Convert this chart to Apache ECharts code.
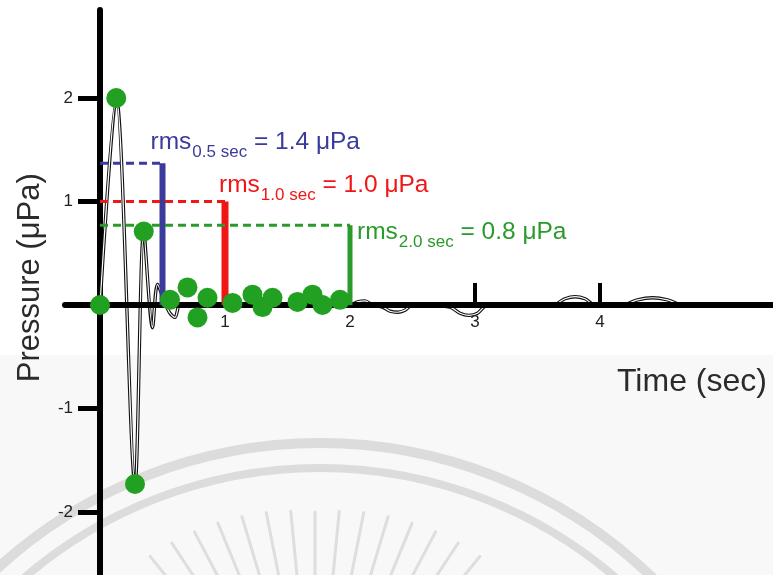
<!DOCTYPE html>
<html>
<head>
<meta charset="utf-8">
<script src="https://cdn.jsdelivr.net/npm/echarts@6/dist/echarts.min.js"></script>
<style>
html,body{margin:0;padding:0;background:#ffffff;}
#c{width:773px;height:575px;}
</style>
</head>
<body>
<div id="c"></div>
<script>
// ---- data ----
const timeSec = [0, 0.13, 0.28, 0.35, 0.42, 0.46, 0.52, 0.56, 0.60, 0.64, 0.75, 1.0, 1.5, 2.0,
  2.06, 2.12, 2.18, 2.26, 2.32, 2.38, 2.44, 2.5, 2.6, 2.8, 2.88, 2.95, 3.02, 3.1, 3.3,
  3.62, 3.72, 3.8, 3.88, 3.96, 4.18, 4.3, 4.42, 4.54, 4.66, 5.0, 5.4];
const pressure = [0, 2.0, -1.73, 0.71, -0.22, 0.2, 0.02, -0.08, -0.12, 0.0, 0, 0, 0, 0,
  0.03, 0.04, 0.0, -0.02, -0.06, -0.07, -0.05, 0, 0, -0.02, -0.08, -0.1, -0.08, 0, 0,
  0, 0.06, 0.08, 0.06, 0, 0, 0.05, 0.07, 0.05, 0, 0, 0];
const sampleTime = [0, 0.13, 0.28, 0.35, 0.56, 0.70, 0.78, 0.86, 1.06, 1.22, 1.30, 1.38, 1.58, 1.70, 1.78, 1.92];
const samplePressure = [0, 2.0, -1.73, 0.71, 0.05, 0.17, -0.12, 0.07, 0.02, 0.10, -0.02, 0.07, 0.03, 0.10, 0.0, 0.05];
const rmsWindowSec = [0.5, 1.0, 2.0];
const rmsLevel = [1.37, 1.0, 0.77];
const rmsLabel = ['1.4', '1.0', '0.8'];
const xTickValues = [1, 2, 3, 4];
const yTickValues = [-2, -1, 1, 2];

// ---- styles ----
const FONT = '"Liberation Sans", Arial, Helvetica, sans-serif';
const rmsColors = ['#3b3b9c', '#f01616', '#2a9a2a'];
const rmsBarWidth = [6, 7, 5];
const rmsLabelOffset = [[-12, -35], [-6, -30], [7, -7]];

const waveData = timeSec.map((t, i) => [t, pressure[i]]);
const sampleData = sampleTime.map((t, i) => [t, samplePressure[i]]);

const series = [
  { type: 'line', data: waveData, smooth: 0.3, symbol: 'none', silent: true, z: 2,
    lineStyle: { color: '#111', width: 3.4 } },
  { type: 'line', data: waveData, smooth: 0.3, symbol: 'none', silent: true, z: 2,
    lineStyle: { color: '#fff', width: 1.2 } }
];
rmsWindowSec.forEach((w, i) => {
  const c = rmsColors[i];
  series.push({ type: 'line', data: [[0, rmsLevel[i]], [w, rmsLevel[i]]], symbol: 'none', silent: true, z: 4,
    lineStyle: { color: c, width: 3, type: [8, 5] } });
  series.push({ type: 'line', data: [[w, rmsLevel[i]], [w, 0]], symbol: 'none', silent: true, z: 4,
    lineStyle: { color: c, width: rmsBarWidth[i], cap: 'butt' } });
  series.push({ type: 'scatter', data: [[w, rmsLevel[i]]], symbolSize: 0, silent: true, z: 12,
    itemStyle: { opacity: 1 },
    label: { show: true, position: rmsLabelOffset[i], opacity: 1,
      formatter: '{a|rms}{b|' + w.toFixed(1) + ' sec}{a| = ' + rmsLabel[i] + ' μPa}',
      rich: {
        a: { fontSize: 24.5, lineHeight: 28, color: c, fontFamily: FONT },
        b: { fontSize: 17, lineHeight: 18, color: c, fontFamily: FONT, padding: [20, 0, 0, 1] }
      } } });
});
series.push({ type: 'scatter', data: sampleData, symbolSize: 20, z: 10, silent: true,
  itemStyle: { color: '#22a022', opacity: 1 } });

// watermark decoration
const graphics = [
  { type: 'rect', z: -10, silent: true, shape: { x: 0, y: 355, width: 773, height: 220 }, style: { fill: '#f8f8f8' } },
  { type: 'circle', z: -9, silent: true, shape: { cx: 320, cy: 921, r: 478 }, style: { fill: 'none', stroke: '#dcdcdc', lineWidth: 10 } },
  { type: 'circle', z: -9, silent: true, shape: { cx: 320, cy: 921, r: 453 }, style: { fill: 'none', stroke: '#dcdcdc', lineWidth: 8 } }
];
for (let k = 0; k < 15; k++) {
  const a = (-39 + k * 78 / 14) * Math.PI / 180;
  const rTip = 248 + 14 * Math.abs(a) / (39 * Math.PI / 180);
  const cx = 315, cy = 760, rIn = 150;
  graphics.push({ type: 'line', z: -9, silent: true,
    shape: { x1: cx + rIn * Math.sin(a), y1: cy - rIn * Math.cos(a), x2: cx + rTip * Math.sin(a), y2: cy - rTip * Math.cos(a) },
    style: { stroke: '#dedede', lineWidth: 3, lineCap: 'round' } });
}

const option = {
  backgroundColor: '#ffffff',
  animation: false,
  textStyle: { fontFamily: FONT },
  graphic: { elements: graphics },
  grid: { left: 65, right: 0, top: 10, bottom: -40.5, containLabel: false, outerBoundsMode: 'none' },
  xAxis: {
    type: 'value', min: -0.28, max: 5.384, z: 3, position: 'bottom', offset: -310.5,
    axisLine: { show: true, onZero: false, lineStyle: { color: '#000', width: 6 } },
    axisTick: { show: true, inside: true, customValues: xTickValues, length: 22, lineStyle: { color: '#000', width: 4 } },
    axisLabel: { show: true, customValues: xTickValues, margin: 9, fontSize: 17, color: '#222', fontFamily: FONT },
    splitLine: { show: false },
    name: 'Time (sec)', nameLocation: 'end', nameGap: -156, nameMoveOverlap: false,
    nameTextStyle: { fontSize: 32, color: '#2b2b2b', fontFamily: FONT, align: 'left', verticalAlign: 'top', padding: [61, 0, 0, 0] }
  },
  yAxis: {
    type: 'value', min: -3, max: 2.85, position: 'left', offset: -35,
    axisLine: { show: true, onZero: false, lineStyle: { color: '#000', width: 6 } },
    axisTick: { show: true, customValues: yTickValues, length: 22, lineStyle: { color: '#000', width: 5 } },
    axisLabel: { show: true, customValues: yTickValues, margin: 27, fontSize: 17, color: '#222', fontFamily: FONT },
    splitLine: { show: false },
    name: 'Pressure (μPa)', nameLocation: 'middle', nameGap: 54, nameMoveOverlap: false,
    nameTextStyle: { fontSize: 31, color: '#2b2b2b', fontFamily: FONT, padding: [0, 0, 0, 70] }
  },
  series: series
};
const chart = echarts.init(document.getElementById('c'), null, { renderer: 'canvas' });
chart.setOption(option);
</script>
</body>
</html>
